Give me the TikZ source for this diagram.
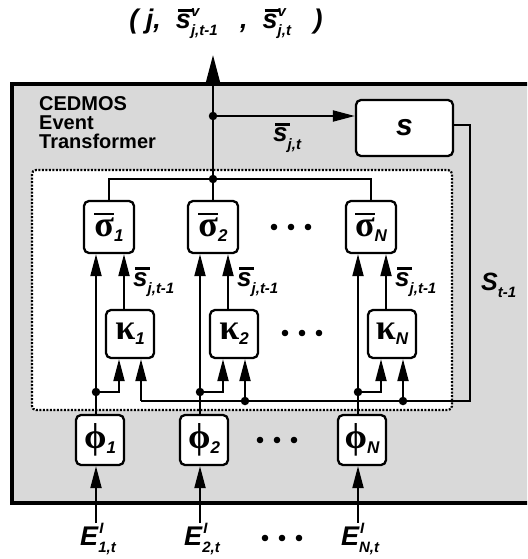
\documentclass[tikz,border=0pt]{standalone}
\usepackage{fontspec}
\setmainfont{Liberation Sans}
\newfontfamily\grk{Liberation Serif}
\usetikzlibrary{arrows.meta}
\newcommand\fs[1]{\fontsize{#1}{#1}\selectfont}
\newcommand\obar[2][0pt]{\setbox0\hbox{#2}\rlap{\kern#1\rule[\dimexpr\ht0+2.5pt\relax]{\wd0}{2.6pt}}\box0}
\newcommand\supsub[3][0pt]{\rlap{\kern#1\raisebox{12pt}{\fs{15}#2}}\raisebox{-7pt}{\fs{15}#3}}
\newcommand\bi{\bfseries\itshape}
\newcommand\gsub[2]{{\grk\bfseries\fs{36}#1}{\bi\fs{17}\raisebox{-5pt}{#2}}}
\tikzset{
  box/.style={draw, line width=2.3pt, rounded corners=5pt, fill=white, inner sep=0pt},
  wire/.style={line width=2pt},
  arr/.style={wire, -{Triangle[length=22pt,width=11pt]}},
  dot/.style={circle, fill=black, inner sep=0pt, minimum size=8.5pt},
  lab/.style={inner sep=0pt, font=\bi}
}
\begin{document}
\begin{tikzpicture}[x=1pt,y=-1pt]
\clip (0,0) rectangle (527,559);
\fill[white] (0,0) rectangle (527,559);
% outer frame
\draw[line width=3.5pt, fill=black!15] (12,84) rectangle (560,503);
% inner dotted box
\draw[line width=2.2pt, dash pattern=on 2pt off 1.5pt, fill=white, rounded corners=4pt] (32,170) rectangle (452,410);
\node[lab, anchor=north west, align=left, font=\bfseries\fs{20}] (title) at (39,96) {CEDMOS\\[-1pt]Event\\[-1pt]Transformer};
% columns
\foreach \L/\s/\n in {96/1/a, 200/2/b, 358/N/c} {
  \node[box, minimum width=48pt, minimum height=50pt] (phi\n) at (\L+4,440) {\gsub{ϕ}{\s}};
  \node[box, minimum width=48pt, minimum height=48pt] (kap\n) at (\L+34,334) {\gsub{κ}{\s}};
  \node[box, minimum width=50pt, minimum height=52pt] (sig\n) at (\L+13,227) {\gsub{\obar{σ}}{\s}};
  \node[dot] (d\n) at (\L,392) {};
  \coordinate (kl\n) at (\L+23,392);
  \coordinate (kr\n) at (\L+45,401);
  \coordinate (ko\n) at (\L+28,300);
  \draw[wire] (phi\n.north -| d\n) -- (d\n);
  \draw[arr] (d\n) -- (d\n |- sig\n.south);
  \draw[arr] (d\n) -- (kl\n) -- (kl\n |- kap\n.south);
  \draw[arr] (kr\n) -- (kr\n |- kap\n.south);
  \draw[arr] (ko\n |- kap\n.north) -- (ko\n |- sig\n.south);
  \node[lab, anchor=base west, font=\bi\fs{26}] (sl\n) at (\L+37,286) {\obar[2pt]{s}\supsub{}{j,t-1}};
  \node[lab, anchor=north, font=\bi\fs{27}] (e\n) at (\L+2,523) {E\supsub[1pt]{I}{\s,t}};
  \draw[arr] (e\n.north -| d\n) -- (phi\n.south -| d\n);
}
% bus and main output
\node[dot] (top) at (213,179) {};
\node[dot] (mid) at (213,116) {};
\coordinate (out) at (213,55);
\draw[wire] (siga.north) -- (siga.north |- top) -- (sigc.north |- top) -- (sigc.north);
\draw[wire] (sigb.north) -- (top) -- (mid);
\draw[line width=2.4pt, -{Triangle[length=28pt,width=14pt]}] (mid) -- (out);
\node[lab, font=\bi\fs{27}] (outlab) at (226,24) {(\ j,\ \ \obar[2pt]{s}\supsub{v}{j,t-1}\ \ \ ,\ \ \obar[2pt]{s}\supsub{v}{j,t}\ \ \ )};
% S box
\node[box, minimum width=97pt, minimum height=56pt] (S) at (404.5,128) {\bi\fs{30}s};
\draw[arr] (mid) -- (mid -| S.west);
\node[lab, anchor=base west, font=\bi\fs{26}] (sjt) at (273,142) {\obar[2pt]{s}\supsub{}{j,t}};
% feedback
\coordinate (fb1) at (470,125);
\coordinate (fb2) at (470,401);
\draw[wire] (S.east |- fb1) -- (fb1) -- (fb2) -- (kra);
\node[dot] at (krb) {};
\node[dot] at (krc) {};
\node[lab, anchor=base west, font=\bi\fs{25}] (st1) at (481,290) {S\supsub{}{t-1}};
% ellipses
\foreach \x/\y in {274/227, 285/333, 260/440, 265/538} {
  \foreach \k in {0,1,2} \fill (\x+\k*17,\y) circle (3.3pt);
}
\end{tikzpicture}
\end{document}
